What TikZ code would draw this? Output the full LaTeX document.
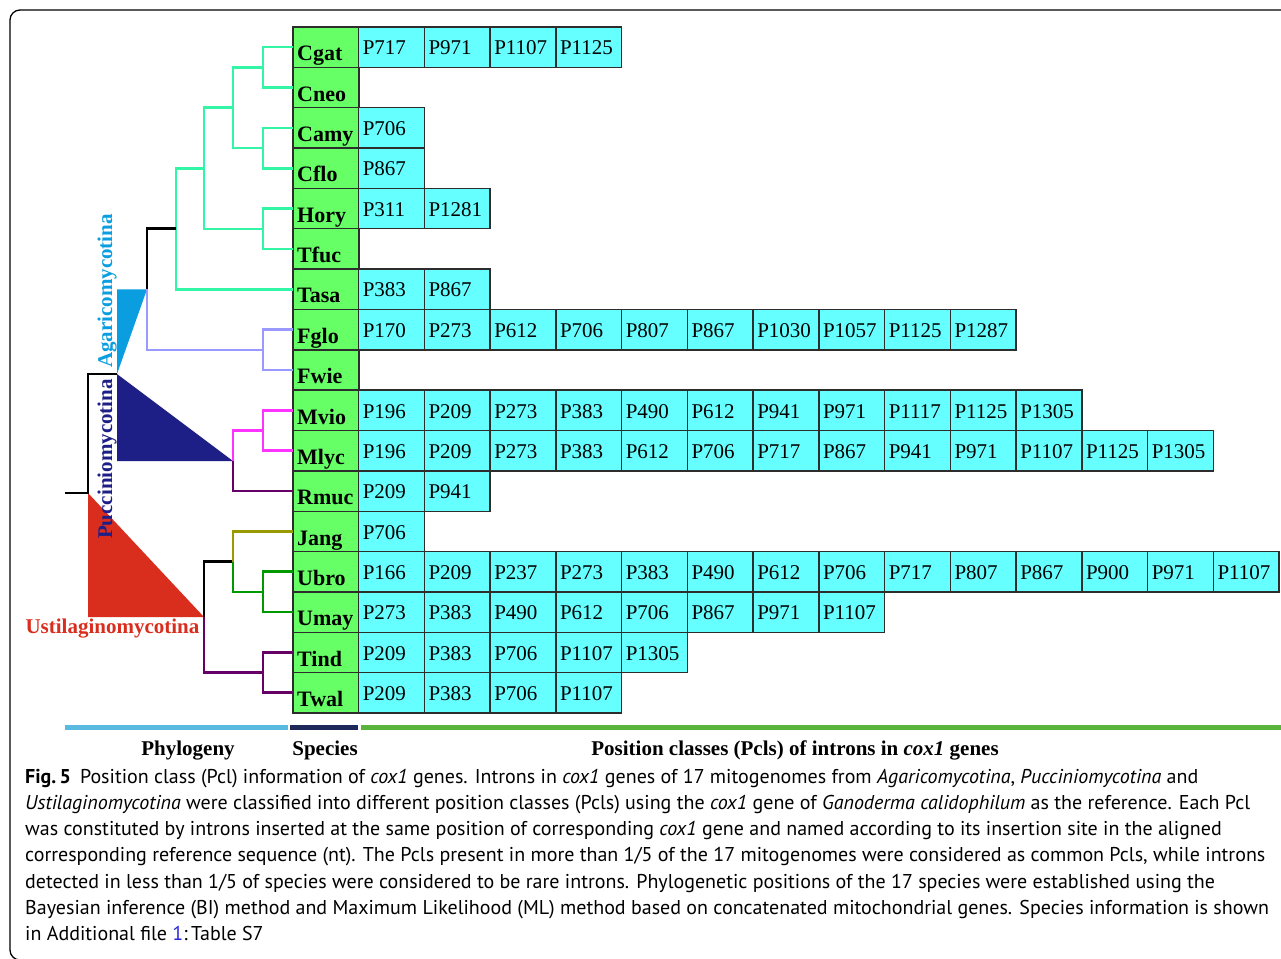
\documentclass[tikz,border=0pt]{standalone}
\usepackage{fontspec}
\setmainfont{Liberation Serif}
\newfontfamily\capfont{PT Sans}
\definecolor{cellG}{RGB}{102,255,102}
\definecolor{cellC}{RGB}{102,255,255}
\definecolor{cellB}{RGB}{45,45,45}
\definecolor{agG}{RGB}{50,245,165}
\definecolor{lav}{RGB}{153,153,255}
\definecolor{mag}{RGB}{255,51,255}
\definecolor{dpur}{RGB}{102,0,102}
\definecolor{oliv}{RGB}{153,153,0}
\definecolor{grn}{RGB}{0,153,0}
\definecolor{agB}{RGB}{10,158,224}
\definecolor{navy}{RGB}{30,30,135}
\definecolor{ured}{RGB}{217,45,30}
\definecolor{barB}{RGB}{90,185,225}
\definecolor{barN}{RGB}{30,40,90}
\definecolor{barG}{RGB}{90,180,60}
\definecolor{linkB}{RGB}{40,40,220}
\begin{document}
\begin{tikzpicture}[x=1pt,y=-1pt,
  spbox/.style={draw=cellB, line width=1.4pt, fill=cellG, minimum width=65.8pt, minimum height=40.35pt, inner sep=0pt, outer sep=0pt},
  pclbox/.style={draw=cellB, line width=1.4pt, fill=cellC, minimum width=65.8pt, minimum height=40.35pt, inner sep=0pt, outer sep=0pt},
  sptext/.style={inner sep=0pt, font=\fontsize{22pt}{22pt}\selectfont\bfseries},
  pcltext/.style={inner sep=0pt, font=\fontsize{21pt}{21pt}\selectfont},
  tree/.style={line width=2.6pt, line cap=butt, line join=miter},
  clade/.style={inner sep=0pt, font=\fontsize{21pt}{21pt}\selectfont\bfseries},
  bar/.style={line width=5.5pt},
  barlab/.style={inner sep=0pt, font=\fontsize{21pt}{21pt}\selectfont\bfseries},
  capline/.style={inner sep=0pt, anchor=base west, font=\capfont\fontsize{20pt}{20pt}\selectfont}
]
\useasboundingbox (0,0) rectangle (1281,958);
\fill[white] (0,0) rectangle (1281,958);
% frame
\draw[line width=1.3pt, rounded corners=10pt] (1300,10) -- (10,10) -- (10,960) -- (1300,960);

% species cells
\foreach \n [count=\i from 0] in {Cgat,Cneo,Camy,Cflo,Hory,Tfuc,Tasa,Fglo,Fwie,Mvio,Mlyc,Rmuc,Jang,Ubro,Umay,Tind,Twal} {
  \node[spbox, anchor=north west] (\n) at (293, {27+40.35*\i}) {};
  \node[sptext, anchor=base west] (\n-t) at ([xshift=4pt, yshift=6.5pt]\n.south west) {\n};
}
% Pcl cells
\foreach \r/\lst in {
  0/{P717,P971,P1107,P1125},
  2/{P706},
  3/{P867},
  4/{P311,P1281},
  6/{P383,P867},
  7/{P170,P273,P612,P706,P807,P867,P1030,P1057,P1125,P1287},
  9/{P196,P209,P273,P383,P490,P612,P941,P971,P1117,P1125,P1305},
  10/{P196,P209,P273,P383,P612,P706,P717,P867,P941,P971,P1107,P1125,P1305},
  11/{P209,P941},
  12/{P706},
  13/{P166,P209,P237,P273,P383,P490,P612,P706,P717,P807,P867,P900,P971,P1107},
  14/{P273,P383,P490,P612,P706,P867,P971,P1107},
  15/{P209,P383,P706,P1107,P1305},
  16/{P209,P383,P706,P1107}} {
  \foreach \p [count=\k from 0] in \lst {
    \node[pclbox, anchor=north west] (c\r-\k) at ({358.6+65.75*\k}, {27+40.35*\r}) {};
    \node[pcltext, anchor=base west] (c\r-\k-t) at ([xshift=4pt, yshift=12.5pt]c\r-\k.south west) {\p};
  }
}

% internal tree nodes
\coordinate (a1) at (263,67.4);
\coordinate (a2) at (263,148.1);
\coordinate (a3) at (233,107.7);
\coordinate (a4) at (263,228.8);
\coordinate (a5) at (204,168.2);
\coordinate (a6) at (176,228.7);
\coordinate (b1) at (147,289.3);
\coordinate (f1) at (263,349.8);
\coordinate (r1) at (117,374);
\coordinate (r2) at (88,493);
\coordinate (root) at (65,493);
\coordinate (p2) at (233,461);
\coordinate (p1) at (263,430.5);
\coordinate (u0) at (204,617);
\coordinate (u1) at (233,561.6);
\coordinate (u2) at (263,591.9);
\coordinate (u3) at (263,672.6);

% collapsed clade triangles
\fill[agB] (117,289.3) -- (b1) -- (r1) -- cycle;
\fill[navy] (r1) -- (117,461) -- (p2) -- cycle;
\fill[ured] (r2) -- (88,617) -- (u0) -- cycle;

% Agaricomycotina branches
\draw[tree, agG] (Cgat.west) -| (a1) |- (Cneo.west);
\draw[tree, agG] (Camy.west) -| (a2) |- (Cflo.west);
\draw[tree, agG] (a1) -| (a3) |- (a2);
\draw[tree, agG] (Hory.west) -| (a4) |- (Tfuc.west);
\draw[tree, agG] (a3) -| (a5) |- (a4);
\draw[tree, agG] (a5) -| (a6) |- (Tasa.west);
\draw[tree, black] (a6) -| (b1);
\draw[tree, lav] (b1) |- (f1);
\draw[tree, lav] (Fglo.west) -| (f1) |- (Fwie.west);
\draw[tree, black] (r1) -| (r2) -- (root);
% Pucciniomycotina branches
\draw[tree, mag] (Mvio.west) -| (p1) |- (Mlyc.west);
\draw[tree, mag] (p2) |- (p1);
\draw[tree, dpur] (p2) |- (Rmuc.west);
% Ustilaginomycotina branches
\draw[tree, black] (u0) |- (u1);
\draw[tree, oliv] (u1) |- (Jang.west);
\draw[tree, grn] (u1) |- (u2);
\draw[tree, grn] (Ubro.west) -| (u2) |- (Umay.west);
\draw[tree, dpur] (u0) |- (u3);
\draw[tree, dpur] (Tind.west) -| (u3) |- (Twal.west);

% clade labels
\node[clade, text=agB, rotate=90, anchor=base] (agl) at (112,291) {Agaricomycotina};
\node[clade, text=navy, rotate=90, anchor=base] (pul) at (112,459) {Pucciniomycotina};
\node[clade, text=ured, anchor=base] (usl) at (112.5,633) {Ustilaginomycotina};

% bottom bars
\coordinate (bb1) at (65,727.5);
\coordinate (bb2) at (288,727.5);
\coordinate (bn1) at (290,727.5);
\coordinate (bn2) at (358,727.5);
\coordinate (bg1) at (361,727.5);
\coordinate (bg2) at (1285,727.5);
\draw[bar, barB] (bb1) -- (bb2);
\draw[bar, barN] (bn1) -- (bn2);
\draw[bar, barG] (bg1) -- (bg2);
\node[barlab, anchor=base] (lphy) at (188,755) {Phylogeny};
\node[barlab, anchor=base] (lspe) at (325,755) {Species};
\node[barlab, anchor=base] (lpcl) at (795,755) {Position classes (Pcls) of introns in \textit{cox1} genes};

% caption
\node[capline] (cap1) at (25,783) {\textbf{Fig.\,5}\hspace{9pt}Position class (Pcl) information of \textit{cox1} genes. Introns in \textit{cox1} genes of 17 mitogenomes from \textit{Agaricomycotina}, \textit{Pucciniomycotina} and};
\node[capline] (cap2) at (25,809.3) {\textit{Ustilaginomycotina} were classified into different position classes (Pcls) using the \textit{cox1} gene of \textit{Ganoderma calidophilum} as the reference. Each Pcl};
\node[capline] (cap3) at (25,835.6) {was constituted by introns inserted at the same position of corresponding \textit{cox1} gene and named according to its insertion site in the aligned};
\node[capline] (cap4) at (25,861.9) {corresponding reference sequence (nt). The Pcls present in more than 1/5 of the 17 mitogenomes were considered as common Pcls, while introns};
\node[capline] (cap5) at (25,888.2) {detected in less than 1/5 of species were considered to be rare introns. Phylogenetic positions of the 17 species were established using the};
\node[capline] (cap6) at (25,914.5) {Bayesian inference (BI) method and Maximum Likelihood (ML) method based on concatenated mitochondrial genes. Species information is shown};
\node[capline] (cap7) at (25,940.8) {in Additional file {\color{linkB}1}:\,Table S7};
\end{tikzpicture}
\end{document}
